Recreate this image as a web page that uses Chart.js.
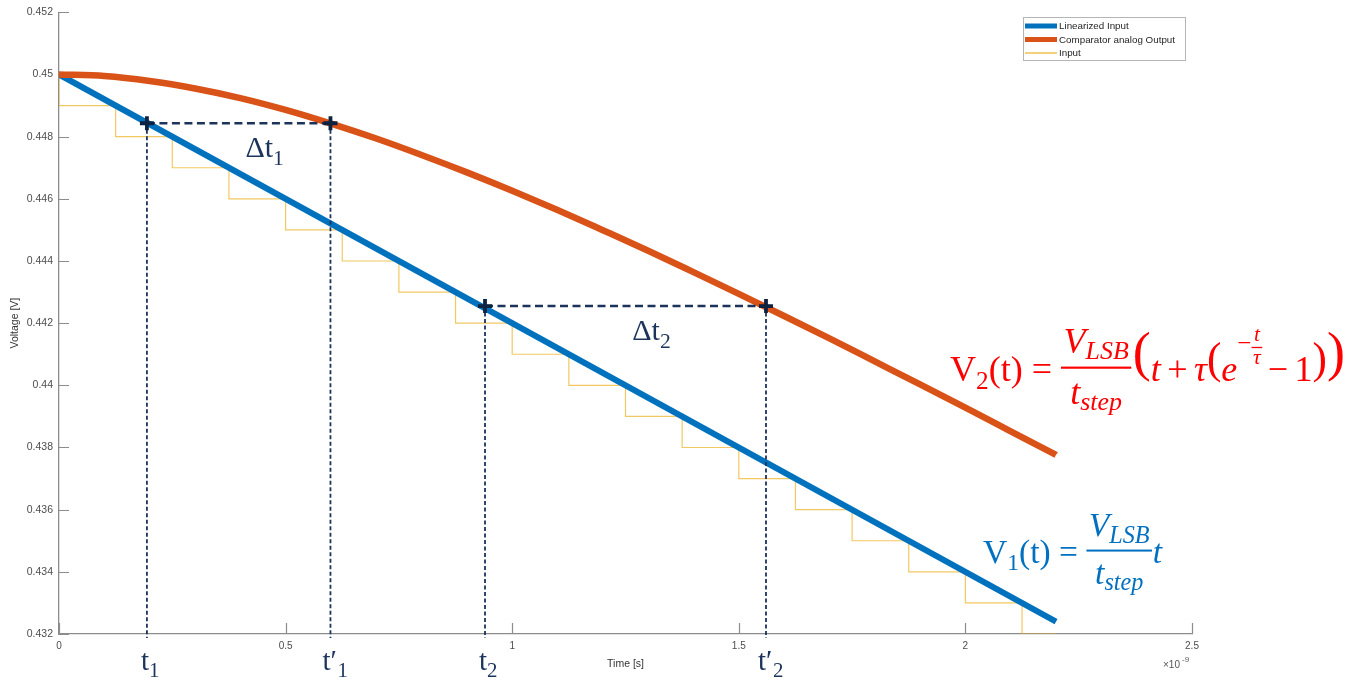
<!DOCTYPE html>
<html><head><meta charset="utf-8">
<script src="https://cdn.jsdelivr.net/npm/chart.js@4.4.0/dist/chart.umd.min.js"></script>
<style>html,body{margin:0;padding:0;background:#fff;overflow:hidden}canvas{display:block}</style>
</head><body><canvas id="c" width="1364" height="681"></canvas>
<script>
// ---- data (time in ns, voltage in V) ----
const seriesNames = ['Linearized Input', 'Comparator analog Output', 'Input'];
const linearTimes = [0, 2.2];
const linearValues = [0.45, 0.4324];
const outputTimes = [0, 0.1, 0.2, 0.3, 0.4, 0.5, 0.6, 0.7, 0.8, 0.9, 1.0, 1.1, 1.2, 1.3, 1.4, 1.5, 1.6, 1.7, 1.8, 1.9, 2.0, 2.1, 2.2];
const outputValues = [0.45, 0.44995, 0.44979, 0.44955, 0.44924, 0.44886, 0.44842, 0.44794, 0.44741, 0.44685, 0.44626, 0.44564, 0.44499, 0.44433, 0.44364, 0.44294, 0.44223, 0.44151, 0.44077, 0.44003, 0.43928, 0.43852, 0.43776];
const inputTimes = [0, 0, 0.125, 0.25, 0.375, 0.5, 0.625, 0.75, 0.875, 1.0, 1.125, 1.25, 1.375, 1.5, 1.625, 1.75, 1.875, 2.0, 2.125, 2.2];
const inputValues = [0.45, 0.449, 0.448, 0.447, 0.446, 0.445, 0.444, 0.443, 0.442, 0.441, 0.440, 0.439, 0.438, 0.437, 0.436, 0.435, 0.434, 0.433, 0.432, 0.432];
const xTickValues = [0, 0.5, 1, 1.5, 2, 2.5];
const xTickLabels = ['0', '0.5', '1', '1.5', '2', '2.5'];
const yTickValues = [0.432, 0.434, 0.436, 0.438, 0.44, 0.442, 0.444, 0.446, 0.448, 0.45, 0.452];
const yTickLabels = ['0.432', '0.434', '0.436', '0.438', '0.44', '0.442', '0.444', '0.446', '0.448', '0.45', '0.452'];
// annotation: delta-t intervals
const deltaStart = [0.194, 0.940];
const deltaEnd = [0.599, 1.560];
const deltaLevel = [0.44843, 0.44255];
const startLabels = ['1', '2'];

const toPts = (xs, ys) => xs.map((x, i) => ({x: x, y: ys[i]}));
const NAVY = '#1c335c';
const SERIF = '"Liberation Serif", "DejaVu Serif", serif';

function fontStr(size, italic) { return (italic ? 'italic ' : '') + size.toFixed(2) + 'px ' + SERIF; }
function item(ctx, t, F, x, y, draw) {
  if (t.frac) {
    const s = t.s || 1, Fs = F * s;
    const wn = run(ctx, t.frac[0], Fs, 0, 0, false), wd = run(ctx, t.frac[1], Fs, 0, 0, false);
    const w = Math.max(wn, wd) + 0.14 * Fs;
    if (draw) {
      const by = y + (t.dy || 0) * F;
      ctx.fillRect(x, by - Math.max(0.6, 0.03 * Fs), w, Math.max(1.2, 0.06 * Fs));
      run(ctx, t.frac[0], Fs, x + (w - wn) / 2, by + (t.nb || -0.42) * Fs, true);
      run(ctx, t.frac[1], Fs, x + (w - wd) / 2, by + (t.db || 1.0) * Fs, true);
    }
    return w + (t.g || 0) * F;
  }
  ctx.font = fontStr(F * (t.s || 1), t.i);
  const w = ctx.measureText(t.t).width;
  if (draw) ctx.fillText(t.t, x, y + (t.dy || 0) * F);
  return w + (t.g || 0) * F;
}
function run(ctx, toks, F, x, y, draw) { let cx = x; for (const t of toks) cx += item(ctx, t, F, cx, y, draw); return cx - x; }
function fitRun(ctx, toks, x, y, targetW, color) {
  const w0 = run(ctx, toks, 30, 0, 0, false);
  const F = 30 * targetW / w0;
  ctx.fillStyle = color;
  ctx.textBaseline = 'alphabetic';
  ctx.textAlign = 'left';
  run(ctx, toks, F, x, y, true);
}

const fracLSB = {frac: [[{t: 'V', i: 1}, {t: 'LSB', i: 1, s: 0.72, dy: 0.18}], [{t: 't', i: 1}, {t: 'step', i: 1, s: 0.72, dy: 0.18}]], dy: -0.37, g: 0.04};
const v2Tokens = [
  {t: 'V'}, {t: '2', s: 0.7, dy: 0.22}, {t: '(t)', g: 0.25}, {t: '=', g: 0.25},
  fracLSB,
  {t: '(', s: 1.5, dy: -0.3}, {t: 't', i: 1, g: 0.18}, {t: '+', g: 0.18}, {t: 'τ', i: 1},
  {t: '(', s: 1.2, dy: -0.22}, {t: 'e', i: 1},
  {t: '−', s: 0.7, dy: -0.83},
  {frac: [[{t: 't', i: 1}], [{t: 'τ', i: 1}]], s: 0.6, dy: -0.93, nb: -0.3, db: 0.75, g: 0.15},
  {t: '−', g: 0.18}, {t: '1'}, {t: ')', s: 1.2, dy: -0.22}, {t: ')', s: 1.5, dy: -0.3}
];
const v1Tokens = [
  {t: 'V'}, {t: '1', s: 0.7, dy: 0.22}, {t: '(t)', g: 0.25}, {t: '=', g: 0.25},
  {frac: fracLSB.frac, dy: -0.37, g: 0.02}, {t: 't', i: 1}
];

const decorations = {
  id: 'decorations',
  beforeDatasetsDraw(chart) {
    const {ctx, scales: {x, y}, chartArea: a} = chart;
    ctx.save();
    ctx.strokeStyle = '#8c8c8c';
    ctx.lineWidth = 1.2;
    ctx.beginPath();
    for (const v of xTickValues) { const px = Math.round(x.getPixelForValue(v)) + 0.5; ctx.moveTo(px, a.bottom); ctx.lineTo(px, a.bottom - 11); }
    for (const v of yTickValues) { const py = Math.round(y.getPixelForValue(v)) + 0.5; ctx.moveTo(a.left, py); ctx.lineTo(a.left + 10, py); }
    ctx.stroke();
    ctx.restore();
  },
  afterDatasetsDraw(chart) {
    const {ctx, scales: {x, y}, chartArea: a} = chart;
    ctx.save();
    for (let k = 0; k < deltaStart.length; k++) {
      const x1 = x.getPixelForValue(deltaStart[k]);
      const x2 = x.getPixelForValue(deltaEnd[k]);
      const py = y.getPixelForValue(deltaLevel[k]);
      // vertical dotted lines
      ctx.strokeStyle = NAVY; ctx.lineWidth = 1.8; ctx.setLineDash([4, 2.5]);
      ctx.beginPath();
      ctx.moveTo(x1, py); ctx.lineTo(x1, a.bottom + 4);
      ctx.moveTo(x2, py); ctx.lineTo(x2, a.bottom + 4);
      ctx.stroke();
      // horizontal dashed line
      ctx.lineWidth = 2.6; ctx.setLineDash([8, 4.5]);
      ctx.beginPath(); ctx.moveTo(x1, py); ctx.lineTo(x2, py); ctx.stroke();
      ctx.setLineDash([]);
      // plus markers
      ctx.strokeStyle = '#0e2242'; ctx.lineWidth = 3.8;
      ctx.beginPath();
      for (const px of [x1, x2]) { ctx.moveTo(px - 7, py); ctx.lineTo(px + 7, py); ctx.moveTo(px, py - 7); ctx.lineTo(px, py + 7); }
      ctx.stroke();
      // labels
      ctx.fillStyle = NAVY; ctx.textBaseline = 'alphabetic'; ctx.textAlign = 'left';
      const dTok = [{t: 'Δt'}, {t: startLabels[k], s: 0.72, dy: 0.25}];
      const dw = run(ctx, dTok, 30, 0, 0, false);
      run(ctx, dTok, 30, (x1 + x2) / 2 + 26 - dw / 2, py + 34, true);
      run(ctx, [{t: 't'}, {t: startLabels[k], s: 0.72, dy: 0.25}], 29, x1 - 6, 670, true);
      run(ctx, [{t: 't'}, {t: '′', g: 0.02}, {t: startLabels[k], s: 0.72, dy: 0.25}], 29, x2 - 8, 670, true);
    }
    // formulas
    fitRun(ctx, v2Tokens, 950, 381, 395, '#ff0000');
    fitRun(ctx, v1Tokens, 983, 563, 179, '#0070c0');
    ctx.restore();
  },
  afterDraw(chart) {
    const {ctx} = chart;
    ctx.save();
    // exponent label
    ctx.fillStyle = '#555'; ctx.textBaseline = 'alphabetic'; ctx.textAlign = 'left';
    ctx.font = '10px "Liberation Sans", Arial, sans-serif';
    ctx.fillText('×10', 1163, 668);
    ctx.font = '8px "Liberation Sans", Arial, sans-serif';
    ctx.fillText('-9', 1182, 662);
    // legend
    ctx.fillStyle = '#fff'; ctx.fillRect(1023, 17, 162, 43);
    ctx.strokeStyle = '#b5b5b5'; ctx.lineWidth = 1; ctx.strokeRect(1023.5, 17.5, 162, 43);
    const rows = [26, 39.5, 53];
    const cols = ['#0072BD', '#D95319', '#EDB120'];
    const widths = [5, 5, 1.2];
    ctx.font = '9.8px "Liberation Sans", Arial, sans-serif';
    ctx.textBaseline = 'middle';
    for (let i = 0; i < 3; i++) {
      ctx.strokeStyle = cols[i]; ctx.lineWidth = widths[i];
      ctx.beginPath(); ctx.moveTo(1025, rows[i]); ctx.lineTo(1057, rows[i]); ctx.stroke();
      ctx.fillStyle = '#262626';
      ctx.fillText(seriesNames[i], 1059, rows[i] + 0.5);
    }
    ctx.restore();
  }
};

new Chart(document.getElementById('c'), {
  type: 'line',
  data: {
    datasets: [
      {label: seriesNames[0], data: toPts(linearTimes, linearValues), borderColor: '#0072BD', borderWidth: 6, pointRadius: 0, order: 2},
      {label: seriesNames[1], data: toPts(outputTimes, outputValues), borderColor: '#D95319', borderWidth: 6.5, pointRadius: 0, cubicInterpolationMode: 'monotone', order: 1},
      {label: seriesNames[2], data: toPts(inputTimes, inputValues), borderColor: 'rgba(237,177,32,0.7)', borderWidth: 1.2, pointRadius: 0, stepped: 'before', order: 3}
    ]
  },
  options: {
    responsive: false, animation: false, devicePixelRatio: 1,
    layout: {padding: {top: 10, right: 172, bottom: 0, left: 0}},
    plugins: {legend: {display: false}, tooltip: {enabled: false}},
    scales: {
      x: {
        type: 'linear', min: 0, max: 2.5,
        afterBuildTicks(s) { s.ticks = xTickValues.map(v => ({value: v})); },
        afterFit(s) { s.height = 47; },
        ticks: {callback: (v, i) => xTickLabels[i], font: {family: '"Liberation Sans", Arial, sans-serif', size: 10}, color: '#4d4d4d', padding: 6, maxRotation: 0, autoSkip: false},
        grid: {display: false, drawTicks: false},
        border: {display: true, color: '#8c8c8c', width: 1.3},
        title: {display: true, text: 'Time [s]', font: {family: '"Liberation Sans", Arial, sans-serif', size: 10.5}, color: '#333', padding: {top: 0, bottom: 11}}
      },
      y: {
        type: 'linear', min: 0.432, max: 0.452,
        afterBuildTicks(s) { s.ticks = yTickValues.map(v => ({value: v})); },
        afterFit(s) { s.width = 59; },
        ticks: {callback: (v, i) => yTickLabels[i], font: {family: '"Liberation Sans", Arial, sans-serif', size: 10.5}, color: '#4d4d4d', padding: 6, autoSkip: false},
        grid: {display: false, drawTicks: false},
        border: {display: true, color: '#8c8c8c', width: 1.3},
        title: {display: true, text: 'Voltage [V]', font: {family: '"Liberation Sans", Arial, sans-serif', size: 10.5}, color: '#333', padding: {top: 9, bottom: 0}}
      }
    }
  },
  plugins: [decorations]
});
</script>
</body></html>
